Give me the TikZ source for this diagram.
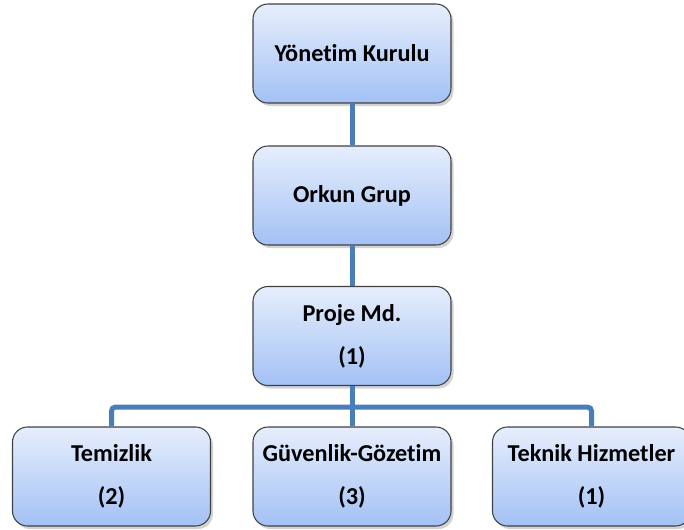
\documentclass[tikz,border=0pt]{standalone}
\usepackage{fontspec}
\setmainfont{Carlito}[Ligatures={NoCommon}]
\usepackage{tikz}
\usetikzlibrary{shadows}

\definecolor{boxtop}{RGB}{230,238,252}
\definecolor{boxbottom}{RGB}{163,193,245}
\definecolor{boxline}{RGB}{64,64,64}
\definecolor{linkblue}{RGB}{74,126,187}

\tikzset{
	unitbox/.style={draw=boxline, line width=0.6pt, rounded corners=0.3cm,
		top color=boxtop, bottom color=boxbottom,
		drop shadow={shadow xshift=0.05cm, shadow yshift=-0.06cm, opacity=0.35},
		minimum width=3.96cm, minimum height=1.98cm, inner sep=0pt, align=center,
		font=\fontsize{13.8}{17}\selectfont\bfseries},
	link/.style={draw=linkblue, line width=0.1cm}
}

\begin{document}
\begin{tikzpicture}
		% page frame, 684x529 px at 0.02cm per px
		\useasboundingbox (0,0) rectangle (13.68,-10.58);
		% top of the chart
		\node[unitbox] (yk) at (7.04,-1.07) {Yönetim Kurulu};
		\node[unitbox] (og) at (7.04,-3.91) {Orkun Grup};
		\node[unitbox] (pm) at (7.04,-6.72) {Proje Md.\\[0.26cm](1)};
		% units
		\node[unitbox] (tz) at (2.23,-9.53) {Temizlik\\[0.26cm](2)};
		\node[unitbox] (gg) at (7.04,-9.53) {Güvenlik-Gözetim\\[0.26cm](3)};
		\node[unitbox] (th) at (11.83,-9.53) {Teknik Hizmetler\\[0.26cm](1)};
		% links
		\coordinate (bus) at (7.04,-8.14);
		\draw[link] (yk) -- (og);
		\draw[link] (og) -- (pm);
		\draw[link] (pm) -- (gg);
		\draw[link, rounded corners=0.08cm] (tz.north) |- (bus) -| (th.north);
	\end{tikzpicture}
\end{document}
